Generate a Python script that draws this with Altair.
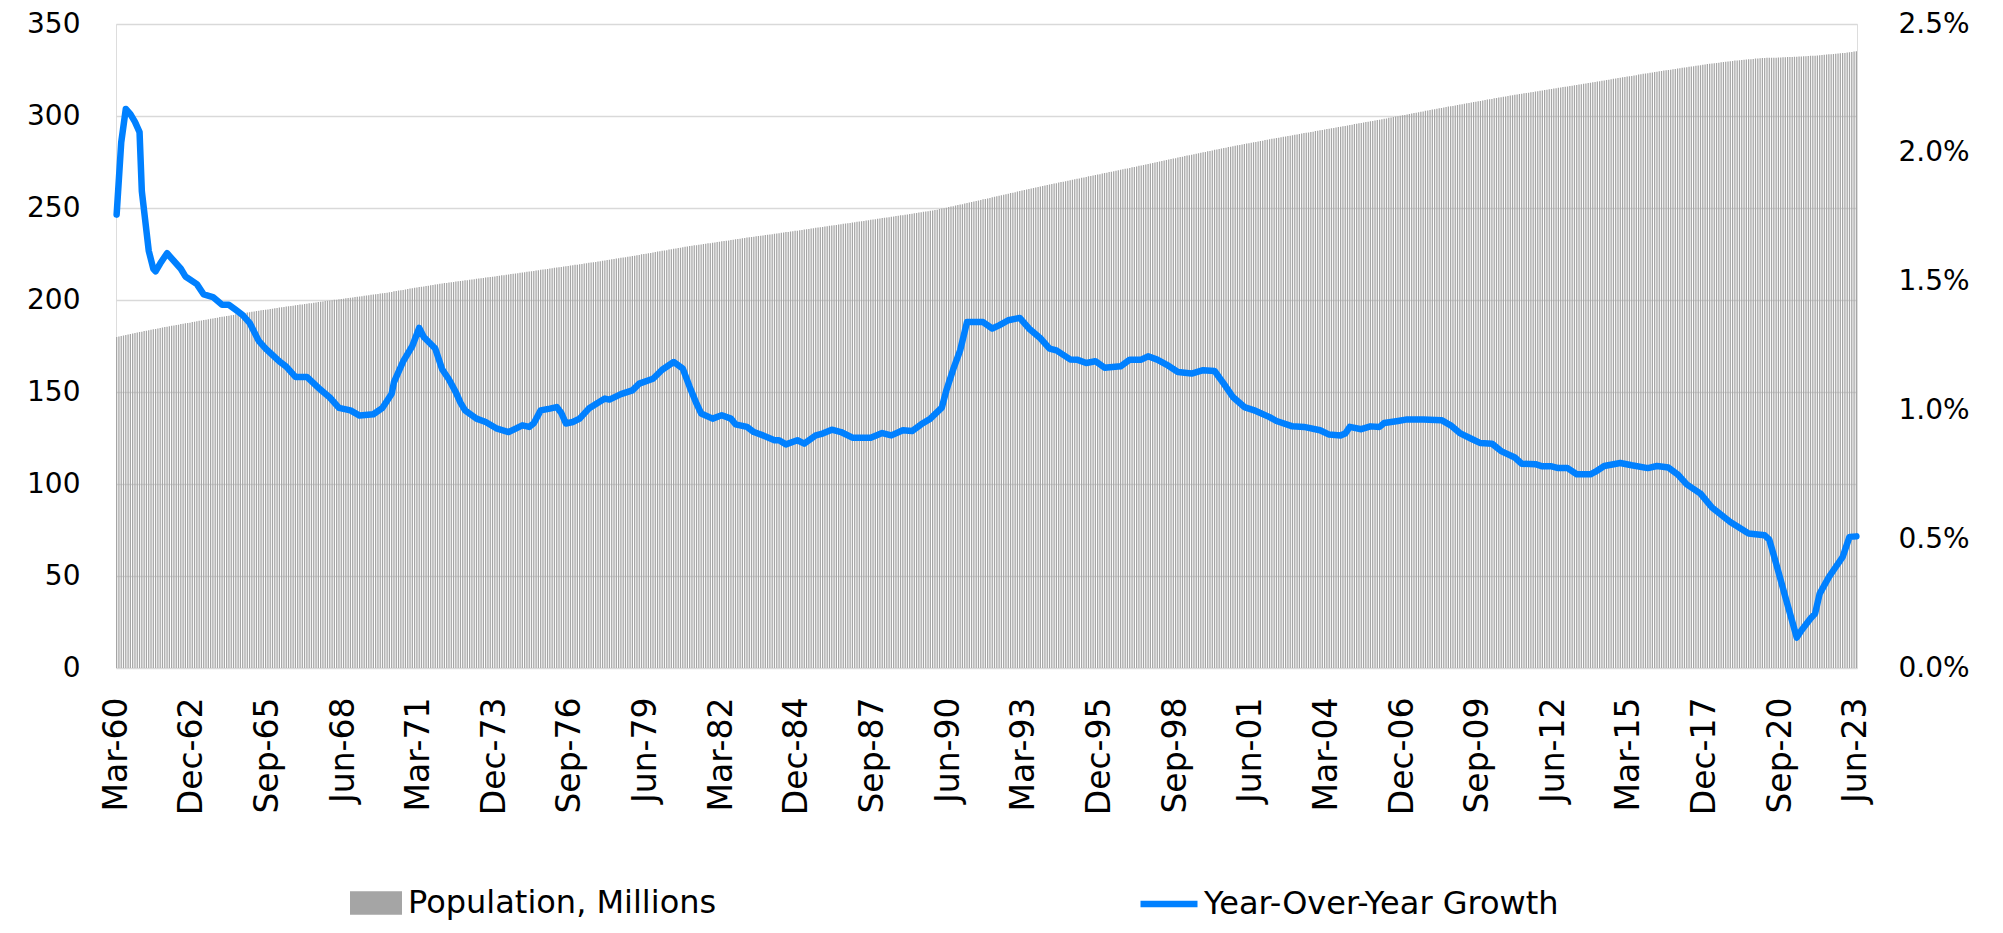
import altair as alt
import pandas as pd

# ---------------- data ----------------
tick_labels = ["Mar-60", "Dec-62", "Sep-65", "Jun-68", "Mar-71", "Dec-73", "Sep-76", "Jun-79",
               "Mar-82", "Dec-84", "Sep-87", "Jun-90", "Mar-93", "Dec-95", "Sep-98", "Jun-01",
               "Mar-04", "Dec-06", "Sep-09", "Jun-12", "Mar-15", "Dec-17", "Sep-20", "Jun-23"]

# Population, millions (monthly, Mar-60 .. Jun-23)
pop_1960s = [
    179.9, 180.2, 180.5, 180.7, 181.0, 181.3, 181.5, 181.8, 182.1, 182.3,
    182.6, 182.8, 183.1, 183.3, 183.6, 183.8, 184.1, 184.3, 184.5, 184.8, 185.0, 185.3,
    185.5, 185.7, 186.0, 186.2, 186.4, 186.6, 186.9, 187.1, 187.3, 187.5, 187.7, 188.0,
    188.2, 188.4, 188.7, 188.9, 189.1, 189.3, 189.6, 189.8, 190.0, 190.2, 190.4, 190.7,
    190.9, 191.1, 191.3, 191.5, 191.7, 191.9, 192.2, 192.4, 192.6, 192.8, 193.0, 193.2,
    193.4, 193.6, 193.8, 194.0, 194.2, 194.4, 194.5, 194.7, 194.9, 195.1, 195.3, 195.5,
    195.7, 195.9, 196.1, 196.2, 196.4, 196.6, 196.8, 196.9, 197.1, 197.3, 197.5, 197.6,
    197.8, 198.0, 198.2, 198.3, 198.5, 198.7, 198.9, 199.0, 199.2, 199.4, 199.6, 199.7,
    199.9, 200.1, 200.2, 200.4, 200.6, 200.7, 200.9, 201.1, 201.2, 201.4, 201.6, 201.7,
    201.9, 202.1, 202.3, 202.4, 202.6, 202.8, 203.0, 203.1, 203.3, 203.5, 203.7, 203.8,
]
pop_1970s = [
    204.0, 204.2, 204.4, 204.7, 204.9, 205.1, 205.3, 205.5, 205.7, 206.0, 206.2, 206.4,
    206.6, 206.8, 207.0, 207.2, 207.4, 207.6, 207.8, 208.0, 208.2, 208.4, 208.6, 208.8,
    209.0, 209.2, 209.3, 209.5, 209.7, 209.8, 210.0, 210.2, 210.3, 210.5, 210.7, 210.8,
    211.0, 211.2, 211.3, 211.5, 211.7, 211.8, 212.0, 212.2, 212.3, 212.5, 212.7, 212.8,
    213.0, 213.2, 213.4, 213.5, 213.7, 213.9, 214.1, 214.2, 214.4, 214.6, 214.8, 214.9,
    215.1, 215.3, 215.5, 215.6, 215.8, 216.0, 216.2, 216.4, 216.6, 216.7, 216.9, 217.1,
    217.3, 217.5, 217.7, 217.8, 218.0, 218.2, 218.4, 218.5, 218.7, 218.9, 219.1, 219.2,
    219.4, 219.6, 219.8, 220.0, 220.2, 220.4, 220.5, 220.7, 220.9, 221.1, 221.3, 221.5,
    221.7, 221.9, 222.1, 222.3, 222.5, 222.7, 222.9, 223.1, 223.3, 223.5, 223.7, 223.9,
    224.1, 224.3, 224.5, 224.8, 225.0, 225.2, 225.4, 225.6, 225.8, 226.1, 226.3, 226.5,
]
pop_1980s = [
    226.7, 226.9, 227.1, 227.4, 227.6, 227.8, 228.0, 228.2, 228.4, 228.7, 228.9, 229.1,
    229.3, 229.5, 229.7, 229.8, 230.0, 230.2, 230.4, 230.6, 230.8, 230.9, 231.1, 231.3,
    231.5, 231.7, 231.9, 232.0, 232.2, 232.4, 232.6, 232.8, 233.0, 233.1, 233.3, 233.5,
    233.7, 233.9, 234.1, 234.2, 234.4, 234.6, 234.8, 234.9, 235.1, 235.3, 235.5, 235.6,
    235.8, 236.0, 236.2, 236.3, 236.5, 236.7, 236.9, 237.0, 237.2, 237.4, 237.6, 237.7,
    237.9, 238.1, 238.3, 238.4, 238.6, 238.8, 239.0, 239.2, 239.4, 239.5, 239.7, 239.9,
    240.1, 240.3, 240.5, 240.6, 240.8, 241.0, 241.2, 241.4, 241.6, 241.7, 241.9, 242.1,
    242.3, 242.5, 242.7, 242.8, 243.0, 243.2, 243.4, 243.6, 243.8, 243.9, 244.1, 244.3,
    244.5, 244.7, 244.9, 245.0, 245.2, 245.4, 245.6, 245.8, 246.0, 246.1, 246.3, 246.5,
    246.7, 246.9, 247.1, 247.3, 247.5, 247.7, 247.9, 248.1, 248.3, 248.5, 248.7, 248.9,
]
pop_1990s = [
    249.1, 249.4, 249.7, 249.9, 250.2, 250.5, 250.8, 251.0, 251.3, 251.6, 251.9, 252.1,
    252.4, 252.7, 253.0, 253.2, 253.5, 253.8, 254.1, 254.4, 254.7, 254.9, 255.2, 255.5,
    255.8, 256.1, 256.4, 256.6, 256.9, 257.2, 257.5, 257.8, 258.1, 258.3, 258.6, 258.9,
    259.2, 259.5, 259.8, 260.0, 260.3, 260.6, 260.9, 261.1, 261.4, 261.7, 262.0, 262.2,
    262.5, 262.8, 263.0, 263.3, 263.5, 263.8, 264.1, 264.3, 264.6, 264.8, 265.1, 265.3,
    265.6, 265.9, 266.1, 266.4, 266.6, 266.9, 267.2, 267.4, 267.7, 267.9, 268.2, 268.4,
    268.7, 269.0, 269.2, 269.5, 269.7, 270.0, 270.3, 270.5, 270.8, 271.0, 271.3, 271.5,
    271.8, 272.1, 272.3, 272.6, 272.9, 273.1, 273.4, 273.7, 273.9, 274.2, 274.5, 274.7,
    275.0, 275.3, 275.5, 275.8, 276.1, 276.3, 276.6, 276.9, 277.1, 277.4, 277.7, 277.9,
    278.2, 278.5, 278.7, 279.0, 279.2, 279.5, 279.8, 280.0, 280.3, 280.5, 280.8, 281.0,
]
pop_2000s = [
    281.3, 281.6, 281.8, 282.1, 282.3, 282.6, 282.8, 283.1, 283.3, 283.6, 283.8, 284.1,
    284.3, 284.5, 284.8, 285.0, 285.2, 285.5, 285.7, 285.9, 286.2, 286.4, 286.6, 286.9,
    287.1, 287.3, 287.6, 287.8, 288.0, 288.2, 288.5, 288.7, 288.9, 289.1, 289.3, 289.6,
    289.8, 290.0, 290.2, 290.5, 290.7, 290.9, 291.1, 291.3, 291.5, 291.8, 292.0, 292.2,
    292.4, 292.6, 292.9, 293.1, 293.3, 293.5, 293.8, 294.0, 294.2, 294.4, 294.6, 294.9,
    295.1, 295.3, 295.6, 295.8, 296.0, 296.2, 296.5, 296.7, 296.9, 297.1, 297.3, 297.6,
    297.8, 298.0, 298.3, 298.5, 298.7, 299.0, 299.2, 299.4, 299.7, 299.9, 300.1, 300.4,
    300.6, 300.8, 301.1, 301.3, 301.6, 301.8, 302.1, 302.3, 302.5, 302.8, 303.0, 303.3,
    303.5, 303.7, 304.0, 304.2, 304.4, 304.6, 304.9, 305.1, 305.3, 305.5, 305.7, 306.0,
    306.2, 306.4, 306.7, 306.9, 307.1, 307.3, 307.6, 307.8, 308.0, 308.2, 308.4, 308.7,
]
pop_2010s = [
    308.9, 309.1, 309.3, 309.6, 309.8, 310.0, 310.2, 310.4, 310.6, 310.9, 311.1, 311.3,
    311.5, 311.7, 311.9, 312.1, 312.3, 312.5, 312.7, 312.9, 313.1, 313.3, 313.5, 313.7,
    313.9, 314.1, 314.3, 314.5, 314.7, 314.9, 315.1, 315.3, 315.5, 315.7, 315.9, 316.1,
    316.3, 316.5, 316.7, 316.9, 317.1, 317.3, 317.5, 317.7, 317.9, 318.1, 318.3, 318.5,
    318.7, 318.9, 319.1, 319.3, 319.5, 319.7, 320.0, 320.2, 320.4, 320.6, 320.8, 321.0,
    321.2, 321.4, 321.6, 321.8, 322.0, 322.2, 322.5, 322.7, 322.9, 323.1, 323.3, 323.5,
    323.7, 323.9, 324.1, 324.3, 324.5, 324.7, 324.9, 325.0, 325.2, 325.4, 325.6, 325.8,
    326.0, 326.2, 326.4, 326.5, 326.7, 326.9, 327.1, 327.3, 327.5, 327.6, 327.8, 328.0,
    328.2, 328.4, 328.5, 328.7, 328.8, 329.0, 329.2, 329.3, 329.5, 329.6, 329.8, 329.9,
    330.1, 330.2, 330.3, 330.5, 330.6, 330.7, 330.8, 330.9, 331.0, 331.2, 331.3, 331.4,
]
pop_2020s = [
    331.5, 331.5, 331.6, 331.6, 331.6, 331.7, 331.7, 331.8, 331.8, 331.9, 331.9, 332.0,
    332.0, 332.1, 332.2, 332.2, 332.3, 332.4, 332.5, 332.5, 332.6, 332.7, 332.8, 332.8,
    332.9, 333.0, 333.1, 333.3, 333.4, 333.5, 333.6, 333.7, 333.8, 334.0, 334.1, 334.2,
    334.3, 334.5, 334.6, 334.8, 335.0, 335.2,
]

# Year-over-year growth (%), read at these months (months after Mar-60)
growth_month = [
    0, 2, 4, 6, 8, 10, 11, 14, 16, 17, 19, 22, 25, 28, 30, 35, 38, 42, 46, 49,
    52, 55, 58, 62, 65, 71, 74, 78, 83, 89, 93, 97, 102, 106, 112, 116, 120, 121, 125, 129,
    132, 134, 139, 142, 145, 148, 150, 152, 157, 161, 166, 171, 177, 180, 182, 185, 189, 192, 194, 196,
    199, 202, 206, 210, 213, 215, 220, 225, 228, 234, 238, 243, 247, 250, 253, 255, 260, 264, 268, 270,
    275, 278, 282, 287, 289, 292, 297, 300, 305, 308, 312, 316, 321, 329, 334, 338, 343, 347, 351, 355,
    360, 362, 365, 368, 371, 378, 382, 385, 389, 394, 398, 403, 407, 410, 416, 419, 423, 427, 431, 438,
    442, 447, 450, 454, 458, 463, 469, 474, 479, 483, 487, 492, 497, 503, 506, 513, 518, 525, 529, 534,
    536, 538, 543, 547, 551, 553, 559, 563, 570, 578, 582, 586, 591, 595, 600, 604, 610, 613, 619, 622,
    626, 629, 633, 637, 643, 645, 649, 656, 661, 668, 672, 677, 681, 685, 691, 696, 704, 712, 719, 721,
    724, 728, 733, 735, 739, 741, 743, 747, 750, 753, 756, 759,
]
growth_pct = [
    1.76, 2.04, 2.17, 2.15, 2.12, 2.08, 1.85, 1.62, 1.55, 1.54, 1.57, 1.61, 1.58, 1.55, 1.52, 1.49, 1.45, 1.44, 1.41, 1.41,
    1.39, 1.37, 1.34, 1.27, 1.24, 1.19, 1.17, 1.13, 1.13, 1.08, 1.05, 1.01, 1.00, 0.98, 0.985, 1.01, 1.065, 1.11, 1.19, 1.25,
    1.32, 1.285, 1.24, 1.16, 1.12, 1.07, 1.03, 1.00, 0.968, 0.955, 0.929, 0.916, 0.942, 0.936, 0.95, 1.00, 1.007, 1.013, 0.99, 0.949,
    0.955, 0.968, 1.007, 1.03, 1.046, 1.042, 1.063, 1.078, 1.104, 1.123, 1.158, 1.188, 1.162, 1.091, 1.026, 0.988, 0.968, 0.981, 0.968, 0.946,
    0.936, 0.916, 0.903, 0.884, 0.884, 0.868, 0.884, 0.871, 0.903, 0.910, 0.925, 0.916, 0.894, 0.894, 0.912, 0.903, 0.923, 0.920, 0.946, 0.968,
    1.011, 1.078, 1.16, 1.233, 1.343, 1.343, 1.318, 1.33, 1.350, 1.359, 1.318, 1.28, 1.240, 1.233, 1.198, 1.197, 1.184, 1.191, 1.166, 1.171,
    1.197, 1.197, 1.210, 1.197, 1.178, 1.149, 1.143, 1.156, 1.153, 1.104, 1.052, 1.013, 0.998, 0.974, 0.959, 0.938, 0.936, 0.923, 0.906, 0.903,
    0.910, 0.936, 0.927, 0.938, 0.936, 0.951, 0.959, 0.965, 0.965, 0.962, 0.942, 0.912, 0.890, 0.873, 0.871, 0.842, 0.817, 0.793, 0.791, 0.783,
    0.783, 0.776, 0.776, 0.752, 0.752, 0.761, 0.784, 0.796, 0.787, 0.776, 0.784, 0.778, 0.752, 0.713, 0.677, 0.623, 0.567, 0.522, 0.515, 0.498,
    0.405, 0.276, 0.118, 0.146, 0.192, 0.211, 0.289, 0.353, 0.392, 0.431, 0.509, 0.511,
]

# ---------------- tables ----------------
mon_names = ["Jan", "Feb", "Mar", "Apr", "May", "Jun", "Jul", "Aug", "Sep", "Oct", "Nov", "Dec"]
pop = pop_1960s + pop_1970s + pop_1980s + pop_1990s + pop_2000s + pop_2010s + pop_2020s
months = []
for k in range(len(pop)):
    m = (2 + k) % 12
    y = 1960 + (2 + k) // 12
    months.append(f"{mon_names[m]}-{y % 100:02d}")

bars_df = pd.DataFrame({"month": months, "pop": pop, "series": "Population, Millions"})
line_df = pd.DataFrame({
    "month": [months[i] for i in growth_month],
    "idx": growth_month,
    "growth": growth_pct,
    "series": "Year-Over-Year Growth",
})

FONT = "DejaVu Sans"

x_enc = alt.X(
    "month:N",
    scale=alt.Scale(domain=months, paddingInner=0.45, paddingOuter=0),
    axis=alt.Axis(values=tick_labels, labelAngle=270, labelPadding=29, labelOverlap=False,
                  labelFontSize=33, labelFont=FONT, labelColor="black",
                  domain=False, ticks=False, grid=False, title=None),
    title=None,
)

bars = alt.Chart(bars_df).mark_bar().encode(
    x=x_enc,
    y=alt.Y("pop:Q", scale=alt.Scale(domain=[0, 350], nice=False),
            axis=alt.Axis(values=[0, 50, 100, 150, 200, 250, 300, 350], grid=True,
                          gridColor="#d9d9d9", gridWidth=1.3, domain=False, ticks=False,
                          labelPadding=36, labelFontSize=28, labelFont=FONT,
                          labelColor="black", title=None, labelFlush=False)),
    color=alt.Color("series:N",
                    scale=alt.Scale(domain=["Population, Millions"], range=["#a5a5a5"]),
                    legend=alt.Legend(orient="none", legendX=234, legendY=853, title=None,
                                      symbolType="M-1,-0.45L1,-0.45L1,0.45L-1,0.45Z",
                                      symbolSize=2704, symbolStrokeWidth=0,
                                      labelFontSize=32, labelFont=FONT, labelColor="black",
                                      labelOffset=6, padding=0, labelLimit=0)),
)

line = alt.Chart(line_df).mark_line(strokeWidth=6.5, strokeJoin="round", strokeCap="round").encode(
    x=x_enc,
    y=alt.Y("growth:Q", scale=alt.Scale(domain=[0, 2.5], nice=False),
            axis=alt.Axis(orient="right", values=[0, 0.5, 1.0, 1.5, 2.0, 2.5], grid=False,
                          domain=False, ticks=False, labelPadding=41, labelFontSize=28,
                          labelFont=FONT, labelColor="black", title=None, labelFlush=False,
                          labelExpr="format(datum.value, '.1f') + '%'")),
    stroke=alt.Stroke("series:N",
                      scale=alt.Scale(domain=["Year-Over-Year Growth"], range=["#0080ff"]),
                      legend=alt.Legend(orient="none", legendX=1021, legendY=848, title=None,
                                        symbolType="stroke", symbolSize=3249,
                                        symbolStrokeWidth=6.5,
                                        labelFontSize=32, labelFont=FONT, labelColor="black",
                                        labelOffset=3, padding=0, labelLimit=0)),
    order=alt.Order("idx:Q"),
)

chart = alt.layer(bars, line).resolve_scale(y="independent", color="independent").properties(
    width=1741,
    height=644,
    autosize=alt.AutoSizeParams(type="none"),
    padding={"left": 108, "top": 16, "right": 130, "bottom": 256},
).configure_view(stroke=None).configure(background="white")

chart.save("out.html", embed_options={"renderer": "svg", "actions": False})
